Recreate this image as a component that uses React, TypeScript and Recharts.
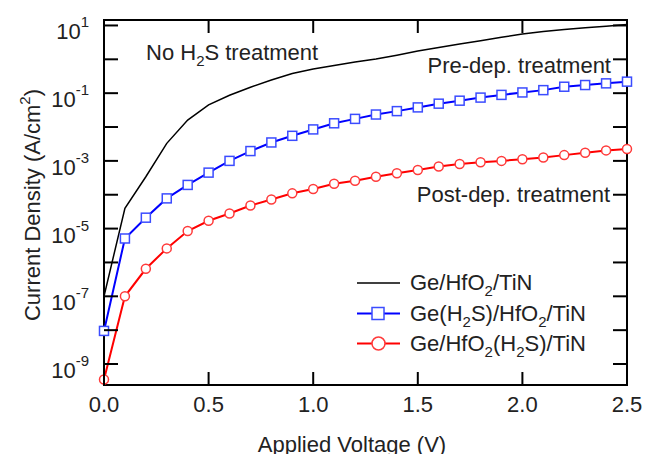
import { LineChart, Line, XAxis, YAxis, ReferenceArea } from 'recharts'

const voltage = [0, 0.1, 0.2, 0.3, 0.4, 0.5, 0.6, 0.7, 0.8, 0.9, 1.0, 1.1, 1.2, 1.3, 1.4, 1.5, 1.6, 1.7, 1.8, 1.9, 2.0, 2.1, 2.2, 2.3, 2.4, 2.5]

// Ge/HfO2/TiN (no H2S treatment)
const noTreatment = [1.0e-7, 4.0e-5, 3.4e-4, 3.3e-3, 1.6e-2, 4.5e-2, 8.7e-2, 0.15, 0.245, 0.38, 0.52, 0.66, 0.83, 1.02, 1.32, 1.76, 2.24, 2.82, 3.55, 4.47, 5.6, 6.6, 7.6, 8.5, 9.5, 10.7]
// Ge(H2S)/HfO2/TiN (pre-dep. treatment)
const preDep = [9.5e-9, 5.1e-6, 2.1e-5, 7.8e-5, 1.95e-4, 4.5e-4, 1.0e-3, 1.95e-3, 3.5e-3, 5.5e-3, 8.5e-3, 1.29e-2, 1.74e-2, 2.34e-2, 2.95e-2, 3.8e-2, 4.9e-2, 6.0e-2, 7.4e-2, 8.9e-2, 0.105, 0.123, 0.155, 0.174, 0.195, 0.219]
// Ge/HfO2(H2S)/TiN (post-dep. treatment)
const postDep = [3.5e-10, 1.0e-7, 6.5e-7, 2.6e-6, 8.5e-6, 1.7e-5, 2.8e-5, 4.8e-5, 7.2e-5, 1.1e-4, 1.48e-4, 2.1e-4, 2.6e-4, 3.4e-4, 4.3e-4, 5.4e-4, 6.8e-4, 8.1e-4, 9.1e-4, 1.0e-3, 1.12e-3, 1.26e-3, 1.48e-3, 1.74e-3, 2.04e-3, 2.24e-3]

const xTicks = [0, 0.5, 1.0, 1.5, 2.0, 2.5]
const yTicks = [1e1, 1e0, 1e-1, 1e-2, 1e-3, 1e-4, 1e-5, 1e-6, 1e-7, 1e-8, 1e-9]
const yDomain = [2.4e-10, 14.5]

const data = voltage.map((v, i) => ({
  v,
  nt: noTreatment[i],
  pre: preDep[i],
  post: postDep[i],
}))

const FONT = '"Liberation Sans", Arial, sans-serif'
const PLOT_W = 523
const PLOT_H = 365
const BLUE = '#0000ff'
const BLUE_MARK = '#3b4cff'
const RED = '#ff0000'
const RED_MARK = '#ff3a3a'
const SUB = 15

function XTick({ x, y, payload }: any) {
  return (
    <g>
      <line x1={x} y1={y} x2={x} y2={y - 13} stroke="#000" strokeWidth={2} />
      <line x1={x} y1={y - PLOT_H} x2={x} y2={y - PLOT_H + 13} stroke="#000" strokeWidth={2} />
      <text x={x} y={y + 27} textAnchor="middle" fontSize={22} fontFamily={FONT} fill="#222">
        {payload.value.toFixed(1)}
      </text>
    </g>
  )
}

function YTick({ x, y, payload }: any) {
  const exp = Math.round(Math.log10(payload.value))
  return (
    <g>
      <line x1={x} y1={y} x2={x + 14} y2={y} stroke="#000" strokeWidth={2} />
      <line x1={x + PLOT_W} y1={y} x2={x + PLOT_W - 14} y2={y} stroke="#000" strokeWidth={2} />
      {Math.abs(exp) % 2 === 1 && (
        <text x={x - 15} y={y + 14} textAnchor="end" fontSize={22} fontFamily={FONT} fill="#222">
          10<tspan dy={-12} fontSize={15}>{exp}</tspan>
        </text>
      )}
    </g>
  )
}

function SquareDot({ cx, cy, index }: any) {
  return <rect key={`sq-${index}`} x={cx - 4.5} y={cy - 4.5} width={9} height={9} fill="#fff" stroke={BLUE_MARK} strokeWidth={1.5} />
}

function CircleDot({ cx, cy, index }: any) {
  return <circle key={`ci-${index}`} cx={cx} cy={cy} r={4.5} fill="#fff" stroke={RED_MARK} strokeWidth={1.5} />
}

export default function App() {
  return (
    <div style={{ position: 'relative', width: 645, height: 454, background: '#fff', fontFamily: FONT }}>
      <style>{'body{margin:0}'}</style>
      <LineChart width={645} height={454} data={data} margin={{ top: 20, right: 18, bottom: 0, left: 0 }}>
        <XAxis
          type="number"
          dataKey="v"
          domain={[0, 2.5]}
          ticks={xTicks}
          interval={0}
          height={69}
          tickSize={0}
          tickMargin={0}
          axisLine={false}
          tickLine={false}
          tick={(p: any) => <XTick {...p} />}
        />
        <YAxis
          type="number"
          scale="log"
          domain={yDomain}
          allowDataOverflow
          ticks={yTicks}
          interval={0}
          width={104}
          tickSize={0}
          tickMargin={0}
          axisLine={false}
          tickLine={false}
          tick={(p: any) => <YTick {...p} />}
        />
        <ReferenceArea x1={0} x2={2.5} y1={yDomain[0]} y2={yDomain[1]} fill="none" stroke="#000" strokeWidth={2} ifOverflow="visible" />
        <Line dataKey="nt" stroke="#000" strokeWidth={1.5} dot={false} isAnimationActive={false} />
        <Line dataKey="pre" stroke={BLUE} strokeWidth={2} dot={(p: any) => <SquareDot key={p.index} {...p} />} isAnimationActive={false} />
        <Line dataKey="post" stroke={RED} strokeWidth={2} dot={(p: any) => <CircleDot key={p.index} {...p} />} isAnimationActive={false} />
      </LineChart>
      <svg width={645} height={454} style={{ position: 'absolute', left: 0, top: 0, pointerEvents: 'none' }} fontFamily={FONT} fontSize={22} fill="#222">
        <text x={146} y={60}>
          No H<tspan dy={6} fontSize={SUB}>2</tspan><tspan dy={-6}>S treatment</tspan>
        </text>
        <text x={611} y={73} textAnchor="end">Pre-dep. treatment</text>
        <text x={610} y={202} textAnchor="end">Post-dep. treatment</text>

        <text x={352} y={452} textAnchor="middle">Applied Voltage (V)</text>
        <text transform="translate(40,205) rotate(-90)" textAnchor="middle">
          Current Density (A/cm<tspan dy={-10} fontSize={SUB}>2</tspan><tspan dy={10}>)</tspan>
        </text>

        <line x1={357} y1={283} x2={400} y2={283} stroke="#000" strokeWidth={1.5} />
        <text x={410} y={290}>
          Ge/HfO<tspan dy={6} fontSize={SUB}>2</tspan><tspan dy={-6}>/TiN</tspan>
        </text>

        <line x1={357} y1={313.5} x2={400} y2={313.5} stroke={BLUE} strokeWidth={2} />
        <rect x={372} y={307.5} width={12} height={12} fill="#fff" stroke={BLUE_MARK} strokeWidth={1.5} />
        <text x={410} y={320.5}>
          Ge(H<tspan dy={6} fontSize={SUB}>2</tspan><tspan dy={-6}>S)/HfO</tspan><tspan dy={6} fontSize={SUB}>2</tspan><tspan dy={-6}>/TiN</tspan>
        </text>

        <line x1={357} y1={343.5} x2={400} y2={343.5} stroke={RED} strokeWidth={2} />
        <circle cx={378.5} cy={343.5} r={6.5} fill="#fff" stroke={RED_MARK} strokeWidth={1.5} />
        <text x={410} y={350.5}>
          Ge/HfO<tspan dy={6} fontSize={SUB}>2</tspan><tspan dy={-6}>(H</tspan><tspan dy={6} fontSize={SUB}>2</tspan><tspan dy={-6}>S)/TiN</tspan>
        </text>
      </svg>
    </div>
  )
}
